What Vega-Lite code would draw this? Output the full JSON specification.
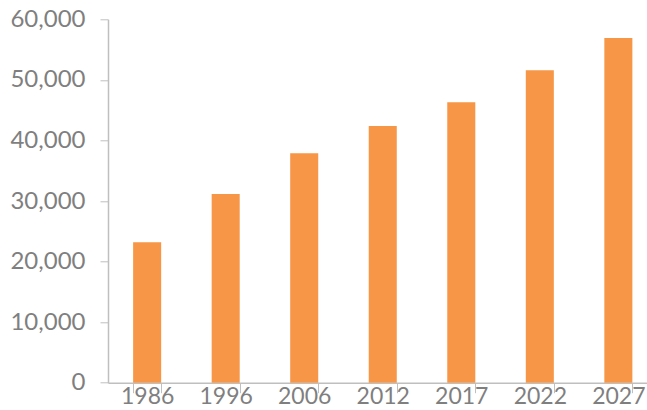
{
  "$schema": "https://vega.github.io/schema/vega-lite/v6.json",
  "autosize": "none",
  "padding": {"left": 108, "top": 19.3, "right": 0, "bottom": 27.3},
  "width": 539,
  "height": 363.4,
  "background": "white",
  "config": {"view": {"stroke": null}},
  "data": {
    "values": [
      {"year": "1986", "value": 23200},
      {"year": "1996", "value": 31150},
      {"year": "2006", "value": 37900},
      {"year": "2012", "value": 42400},
      {"year": "2017", "value": 46300},
      {"year": "2022", "value": 51600},
      {"year": "2027", "value": 56900}
    ]
  },
  "mark": {"type": "bar", "color": "#F79646"},
  "encoding": {
    "x": {
      "field": "year",
      "type": "nominal",
      "sort": null,
      "scale": {"range": [0, 549.5], "paddingInner": 0.643, "paddingOuter": 0.32},
      "axis": {
        "title": null,
        "labelAngle": 0,
        "labelFont": "Lato",
        "labelFontSize": 23,
        "labelColor": "#7f7f7f",
        "labelPadding": -7,
        "tickBand": "extent",
        "tickSize": 10,
        "tickColor": "#bfbfbf",
        "domainColor": "#bfbfbf",
        "domainWidth": 1.5
      }
    },
    "y": {
      "field": "value",
      "type": "quantitative",
      "scale": {"domain": [0, 60000], "nice": false},
      "axis": {
        "title": null,
        "values": [0, 10000, 20000, 30000, 40000, 50000, 60000],
        "format": ",d",
        "grid": false,
        "labelFont": "Lato",
        "labelFontSize": 24,
        "labelColor": "#7f7f7f",
        "labelPadding": 15,
        "tickSize": 8,
        "tickColor": "#bfbfbf",
        "domainColor": "#bfbfbf",
        "domainWidth": 1.5
      }
    }
  }
}
